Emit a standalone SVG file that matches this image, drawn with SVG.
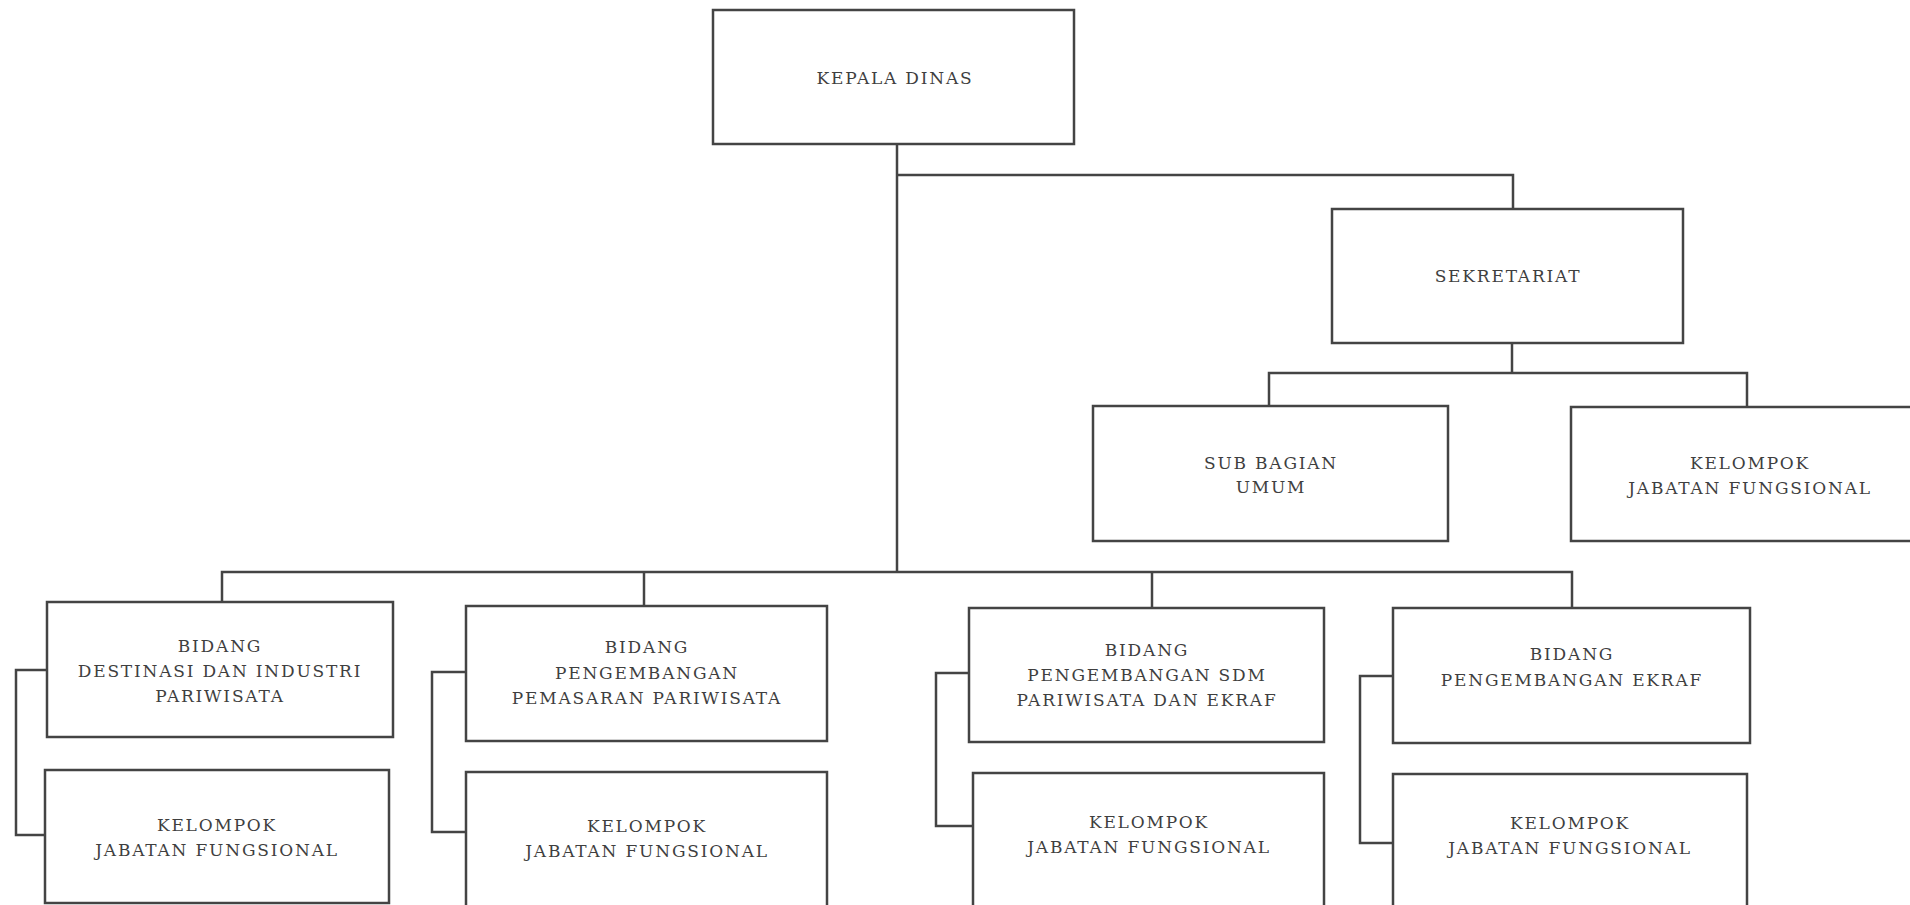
<svg xmlns="http://www.w3.org/2000/svg" width="1910" height="905" viewBox="0 0 1910 905">
<style>
.box{fill:#fff;stroke:#444;stroke-width:2.5}
.ln{fill:none;stroke:#444;stroke-width:2.5;stroke-linejoin:miter}
text{font-family:"DejaVu Serif","Liberation Serif",serif;font-size:17px;letter-spacing:1.8px;fill:#3f3f3f;text-anchor:middle}
</style>
<rect width="1910" height="905" fill="#fff"/>
<g id="connectors">
<path class="ln" d="M897 144V572"/>
<path class="ln" d="M897 175H1513V209"/>
<path class="ln" d="M1512 343V373"/>
<path class="ln" d="M1269 406V373H1747V407"/>
<path class="ln" d="M222 602V572H1572V608"/>
<path class="ln" d="M644 572V606"/>
<path class="ln" d="M1152 572V608"/>
<path class="ln" d="M47 670H16V835H45"/>
<path class="ln" d="M466 672H432V832H466"/>
<path class="ln" d="M969 673H936V826H973"/>
<path class="ln" d="M1393 676H1360V843H1393"/>
</g>
<g id="kepala"><rect class="box" x="713" y="10" width="361" height="134"/><text x="895" y="84">KEPALA DINAS</text></g>
<g id="sekretariat"><rect class="box" x="1332" y="209" width="351" height="134"/><text x="1508" y="282">SEKRETARIAT</text></g>
<g id="subbagian"><rect class="box" x="1093" y="406" width="355" height="135"/><text x="1271" y="469">SUB BAGIAN</text><text x="1271" y="493">UMUM</text></g>
<g id="kjf-sek"><rect class="box" x="1571" y="407" width="356" height="134"/><text x="1750" y="469">KELOMPOK</text><text x="1750" y="494">JABATAN FUNGSIONAL</text></g>
<g id="bidang1"><rect class="box" x="47" y="602" width="346" height="135"/><text x="220" y="652">BIDANG</text><text x="220" y="677">DESTINASI DAN INDUSTRI</text><text x="220" y="702">PARIWISATA</text></g>
<g id="kjf1"><rect class="box" x="45" y="770" width="344" height="133"/><text x="217" y="831">KELOMPOK</text><text x="217" y="856">JABATAN FUNGSIONAL</text></g>
<g id="bidang2"><rect class="box" x="466" y="606" width="361" height="135"/><text x="647" y="653">BIDANG</text><text x="647" y="679">PENGEMBANGAN</text><text x="647" y="704">PEMASARAN PARIWISATA</text></g>
<g id="kjf2"><rect class="box" x="466" y="772" width="361" height="135"/><text x="647" y="832">KELOMPOK</text><text x="647" y="857">JABATAN FUNGSIONAL</text></g>
<g id="bidang3"><rect class="box" x="969" y="608" width="355" height="134"/><text x="1147" y="656">BIDANG</text><text x="1147" y="681">PENGEMBANGAN SDM</text><text x="1147" y="706">PARIWISATA DAN EKRAF</text></g>
<g id="kjf3"><rect class="box" x="973" y="773" width="351" height="135"/><text x="1149" y="828">KELOMPOK</text><text x="1149" y="853">JABATAN FUNGSIONAL</text></g>
<g id="bidang4"><rect class="box" x="1393" y="608" width="357" height="135"/><text x="1572" y="660">BIDANG</text><text x="1572" y="686">PENGEMBANGAN EKRAF</text></g>
<g id="kjf4"><rect class="box" x="1393" y="774" width="354" height="135"/><text x="1570" y="829">KELOMPOK</text><text x="1570" y="854">JABATAN FUNGSIONAL</text></g>
</svg>
